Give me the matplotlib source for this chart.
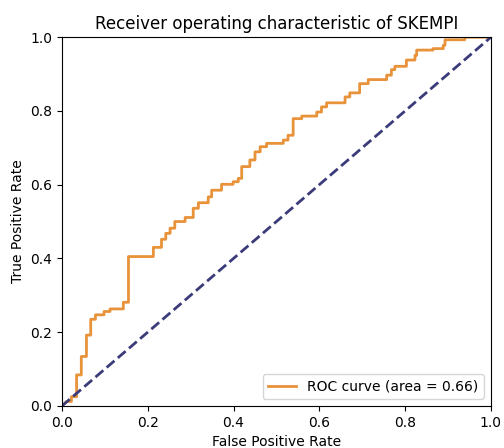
import matplotlib
matplotlib.use('Agg')
import matplotlib.pyplot as plt

# ROC curve vertices (step corners)
fpr = [0.0, 0.011, 0.022, 0.022, 0.034, 0.034, 0.045, 0.045, 0.057, 0.057,
       0.067, 0.067, 0.078, 0.078, 0.098, 0.098, 0.112, 0.112, 0.143, 0.143,
       0.155, 0.155, 0.213, 0.213, 0.232, 0.232, 0.242, 0.242, 0.252, 0.252,
       0.263, 0.263, 0.287, 0.287, 0.306, 0.306, 0.318, 0.318, 0.341, 0.341,
       0.349, 0.349, 0.372, 0.372, 0.399, 0.399, 0.411, 0.411, 0.419, 0.419,
       0.438, 0.438, 0.450, 0.450, 0.462, 0.462, 0.477, 0.477, 0.516, 0.516,
       0.527, 0.527, 0.539, 0.539, 0.559, 0.559, 0.594, 0.594, 0.605, 0.605,
       0.617, 0.617, 0.660, 0.660, 0.671, 0.671, 0.694, 0.694, 0.714, 0.714,
       0.757, 0.757, 0.768, 0.768, 0.776, 0.776, 0.803, 0.803, 0.823, 0.823,
       0.827, 0.827, 0.865, 0.865, 0.889, 0.889, 0.893, 0.893, 0.939, 0.939,
       1.0]
tpr = [0.0, 0.012, 0.012, 0.025, 0.025, 0.084, 0.084, 0.134, 0.134, 0.192,
       0.192, 0.235, 0.235, 0.247, 0.247, 0.256, 0.256, 0.263, 0.263, 0.281,
       0.281, 0.405, 0.405, 0.430, 0.430, 0.452, 0.452, 0.468, 0.468, 0.482,
       0.482, 0.500, 0.500, 0.511, 0.511, 0.536, 0.536, 0.551, 0.551, 0.567,
       0.567, 0.585, 0.585, 0.601, 0.601, 0.608, 0.608, 0.617, 0.617, 0.649,
       0.649, 0.667, 0.667, 0.689, 0.689, 0.703, 0.703, 0.712, 0.712, 0.721,
       0.721, 0.734, 0.734, 0.779, 0.779, 0.786, 0.786, 0.797, 0.797, 0.811,
       0.811, 0.822, 0.822, 0.838, 0.838, 0.849, 0.849, 0.874, 0.874, 0.885,
       0.885, 0.897, 0.897, 0.912, 0.912, 0.921, 0.921, 0.938, 0.938, 0.951,
       0.951, 0.965, 0.965, 0.969, 0.969, 0.978, 0.978, 0.993, 0.993, 1.0,
       1.0]
roc_auc = 0.66
chance = [0.0, 1.0]

fig = plt.figure(figsize=(5.04, 4.48), dpi=100)
ax = fig.add_axes([0.123, 0.094, 0.851, 0.823])

ax.plot(fpr, tpr, color='#e8923a', lw=2,
        label='ROC curve (area = %0.2f)' % roc_auc)
ax.plot(chance, chance, color='#3b3b7a', lw=2, linestyle='--')
ax.set_xlim([0.0, 1.0])
ax.set_ylim([0.0, 1.0])
ax.set_xlabel('False Positive Rate')
ax.set_ylabel('True Positive Rate')
ax.set_title('Receiver operating characteristic of SKEMPI')
ax.legend(loc='lower right')

fig.savefig('out.png', dpi=100)
